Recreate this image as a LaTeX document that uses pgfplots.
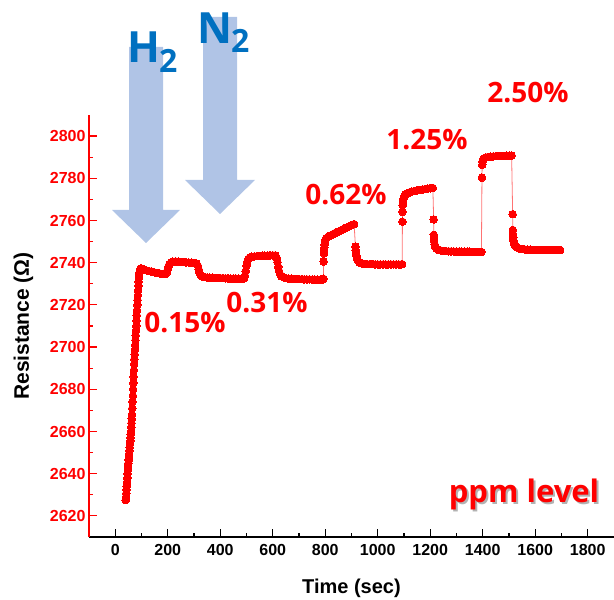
\documentclass[border=0pt]{standalone}
\usepackage{pgfplots}
\pgfplotsset{compat=1.18}
\usepackage{fontspec}
\setmainfont{Liberation Sans}
\newfontfamily\opens{Open Sans}
\definecolor{arrowblue}{RGB}{176,196,230}
\definecolor{gasblue}{RGB}{0,112,192}
\definecolor{pred}{RGB}{255,0,0}

\pgfplotstableread{
t R
40 2627.5
41 2629
42 2630.7
43 2632.4
44 2634
45 2636
46 2638
47 2640
48 2642
49 2643.5
50 2645
51 2646.5
52 2648
53 2649.5
54 2651
55 2652.5
56 2654
57 2655.5
58 2657
59 2658.5
60 2660
61 2662
62 2664
63 2666
64 2668
65 2671
66 2674
67 2677
68 2680
69 2683
70 2686
71 2689
72 2692
73 2694.3
74 2696.5
75 2698.8
76 2701
77 2703.3
78 2705.5
79 2707.8
80 2710
81 2712.5
82 2715
83 2717.5
84 2720
85 2722.3
86 2724.5
87 2726.8
88 2729
89 2731
90 2732.8
91 2734.2
92 2735.4
94 2736.6
97 2737.2
100 2737.3
110 2736.8
120 2736.3
130 2736
140 2735.7
150 2735.4
160 2735.1
170 2734.9
180 2734.7
190 2734.6
196 2735.2
199 2736.5
202 2738
206 2739.3
212 2740.1
220 2740.5
230 2740.6
240 2740.5
250 2740.4
260 2740.3
270 2740.2
280 2740.1
290 2740
300 2739.9
310 2739.6
315 2738.5
318 2736.8
321 2735.2
325 2734.1
332 2733.5
340 2733.2
350 2733
360 2732.9
370 2732.9
380 2732.8
390 2732.8
400 2732.7
410 2732.7
420 2732.6
430 2732.6
440 2732.5
450 2732.5
460 2732.5
470 2732.4
480 2732.4
490 2732.5
494 2733.8
497 2736
500 2738.5
503 2740.5
507 2741.8
513 2742.5
520 2742.8
530 2743
540 2743.1
550 2743.2
560 2743.3
570 2743.3
580 2743.4
590 2743.5
600 2743.5
610 2743.5
615 2742.3
618 2740.3
621 2738
624 2736
628 2734.5
634 2733.5
642 2733
650 2732.7
660 2732.5
670 2732.4
680 2732.3
690 2732.3
700 2732.2
710 2732.2
720 2732.1
730 2732.1
740 2732.1
750 2732
760 2732
770 2732
780 2731.9
790 2732
793 2732.4
794 2740.5
795 2744.3
795.5 2745.6
796 2747
797 2748.4
798.5 2749.8
801 2750.9
805 2751.7
811 2752.3
820 2752.9
830 2753.6
840 2754.2
850 2754.8
860 2755.4
870 2756
880 2756.6
890 2757.2
900 2757.8
910 2758.3
915 2747.6
916 2746
917 2744.6
918.5 2743.3
921 2742
925 2740.9
931 2740.1
940 2739.6
950 2739.4
960 2739.3
970 2739.3
980 2739.3
990 2739.2
1000 2739.2
1010 2739.2
1020 2739.2
1030 2739.2
1040 2739.2
1050 2739.2
1060 2739.2
1070 2739.2
1080 2739.2
1090 2739.2
1093 2739.3
1094 2759.4
1094.5 2764.1
1095 2767.3
1096 2768.9
1098 2770.3
1101 2771.5
1106 2772.4
1113 2772.9
1120 2773.3
1130 2773.7
1140 2774
1150 2774.3
1160 2774.5
1170 2774.7
1180 2774.9
1190 2775.1
1200 2775.3
1210 2775.4
1213 2760.5
1213.5 2753.2
1214 2751.6
1215 2750.1
1216.5 2748.8
1219 2747.6
1223 2746.7
1230 2746.1
1240 2745.8
1250 2745.6
1260 2745.5
1270 2745.4
1280 2745.4
1290 2745.3
1300 2745.3
1310 2745.3
1320 2745.2
1330 2745.2
1340 2745.2
1350 2745.2
1360 2745.1
1370 2745.1
1380 2745.1
1390 2745.1
1395 2745.1
1397 2780.3
1398 2786.4
1399 2787.9
1401 2788.9
1405 2789.5
1412 2789.9
1420 2790.1
1430 2790.3
1440 2790.4
1450 2790.5
1460 2790.5
1470 2790.6
1480 2790.6
1490 2790.7
1500 2790.7
1510 2790.8
1514 2763
1514.5 2755.5
1515 2753.6
1516 2751.9
1517.5 2750.4
1520 2749
1524 2747.9
1530 2747.2
1540 2746.7
1550 2746.5
1560 2746.3
1570 2746.2
1580 2746.2
1590 2746.1
1600 2746.1
1610 2746.1
1620 2746.1
1630 2746
1640 2746
1650 2746
1660 2746
1670 2746
1680 2746
1690 2746
1695 2746
}\datatable

\begin{document}
\begin{tikzpicture}
\useasboundingbox (0,0) rectangle (614pt,600pt);
% gas arrows
\fill[arrowblue] (129pt,553pt) -- (163pt,553pt) -- (163pt,390pt) -- (180pt,390pt) -- (146pt,357pt) -- (112pt,390pt) -- (129pt,390pt) -- cycle;
\fill[arrowblue] (203pt,583pt) -- (237pt,583pt) -- (237pt,420pt) -- (255pt,420pt) -- (220pt,386pt) -- (185pt,420pt) -- (203pt,420pt) -- cycle;
\node[anchor=base west, inner sep=0pt, text=gasblue, font=\opens\bfseries\fontsize{43}{43}\selectfont] at (127pt,537pt) {H};
\node[anchor=base west, inner sep=0pt, text=gasblue, font=\opens\bfseries\fontsize{32}{32}\selectfont] at (159pt,527pt) {2};
\node[anchor=base west, inner sep=0pt, text=gasblue, font=\opens\bfseries\fontsize{43}{43}\selectfont] at (197pt,556pt) {N};
\node[anchor=base west, inner sep=0pt, text=gasblue, font=\opens\bfseries\fontsize{32}{32}\selectfont] at (231pt,547pt) {2};
\begin{axis}[
  at={(89pt,63pt)}, anchor=south west,
  width=525pt, height=422pt, scale only axis,
  xmin=-100, xmax=1900, ymin=2610, ymax=2810,
  axis x line*=bottom, axis y line*=left,
  axis line style={-},
  x axis line style={black, line width=1.5pt},
  y axis line style={pred, line width=1.5pt},
  tick align=inside,
  xtick={0,200,...,1800}, ytick={2620,2640,...,2800},
  minor x tick num=1, minor y tick num=1,
  major tick length=8pt, minor tick length=4pt,
  xtick style={black, line width=1.2pt},
  ytick style={pred, line width=1.2pt},
  /pgf/number format/assume math mode=true,
  /pgf/number format/set thousands separator={},
  ticklabel style={font=\bfseries\fontsize{16}{16}\selectfont},
  yticklabel style={text=pred},
  xticklabel style={yshift=-4pt},
  xlabel={Time (sec)}, ylabel={Resistance (Ω)},
  xlabel style={at={(axis description cs:0.5,-0.121)}, anchor=center, font=\bfseries\fontsize{20}{20}\selectfont},
  ylabel style={at={(axis description cs:-0.125,0.5)}, anchor=center, font=\bfseries\fontsize{21}{21}\selectfont},
  clip=false,
]
\addplot[color=pred!55, line width=0.8pt, mark=*, mark size=3.8pt,
  mark options={fill=pred, draw=pred, line width=0pt}] table[x=t, y=R] {\datatable};
\end{axis}
% concentration labels
\begin{scope}[every node/.style={anchor=base, inner sep=0pt, text=pred, font=\opens\bfseries\fontsize{28}{28}\selectfont}]
\node at (185pt,267pt) {0.15\%};
\node at (267pt,287pt) {0.31\%};
\node at (346pt,395pt) {0.62\%};
\node at (427pt,450pt) {1.25\%};
\node at (528pt,497pt) {2.50\%};
\end{scope}
\node[anchor=base, inner sep=0pt, text=black!30, font=\opens\bfseries\fontsize{31}{31}\selectfont] at (526pt,95pt) {ppm level};
\node[anchor=base, inner sep=0pt, text=pred, font=\opens\bfseries\fontsize{31}{31}\selectfont] at (524pt,97pt) {ppm level};
\end{tikzpicture}
\end{document}
